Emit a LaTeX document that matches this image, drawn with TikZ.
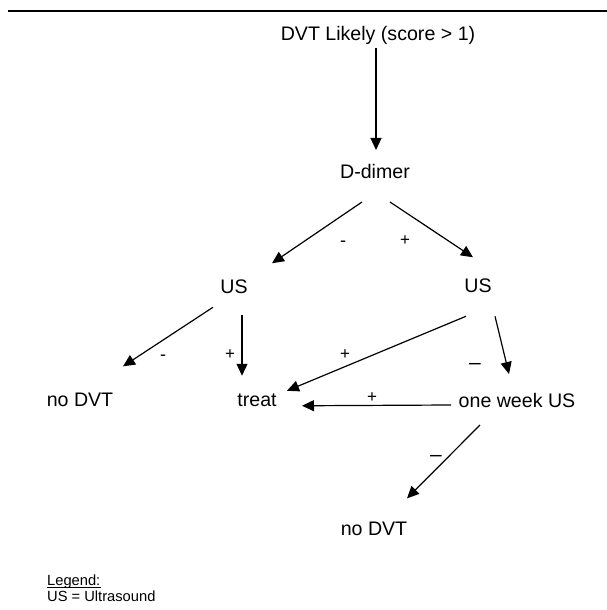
\documentclass[tikz,border=0pt]{standalone}
\usepackage{fontspec}
\setmainfont{Liberation Sans}
\usetikzlibrary{arrows.meta,calc}

\tikzset{
  txt/.style={inner sep=0pt, anchor=base, font=\fontsize{19.6}{23}\selectfont},
  lbl/.style={inner sep=0pt, anchor=base, font=\fontsize{17}{19}\selectfont},
  hyphenlbl/.style={inner sep=0pt, anchor=base, font=\fontsize{18}{20}\selectfont},
  dashlbl/.style={inner sep=0pt, anchor=base, font=\fontsize{21}{23}\selectfont},
  legendtxt/.style={inner sep=0pt, anchor=base west, font=\fontsize{14.7}{17}\selectfont},
  arr/.style={line width=1.2pt, -{Triangle[length=12pt,width=11pt]}},
}

\begin{document}
\begin{tikzpicture}[x=1pt,y=-1pt]
\useasboundingbox (0,0) rectangle (607,610);

% header rule
\coordinate (ruleL) at (8,11);
\coordinate (ruleR) at (607,11);
\draw[line width=2pt] (ruleL) -- (ruleR);

% decision nodes
\node[txt] (title) at (378,41) {DVT Likely (score > 1)};
\node[txt] (dd)    at (375,178) {D-dimer};
\node[txt] (usl)   at (234,293) {US};
\node[txt] (usr)   at (478,292) {US};
\node[txt] (nodvtA) at (80,406) {no DVT};
\node[txt] (treat) at (257,406) {treat};
\node[txt] (week)  at (517,407) {one week US};
\node[txt] (nodvtB) at (374,535) {no DVT};

% connectors
\draw[arr] ($(title)+(-2,12)$) -- ($(dd)+(1,-21)$);
\draw[arr] ($(dd)+(-13,31)$) -- ($(usl)+(38,-23)$);
\draw[arr] ($(dd)+(15,31)$) -- ($(usr)+(-5,-28)$);
\draw[arr] ($(usl)+(-21,21)$) -- ($(nodvtA)+(43,-33)$);
\draw[arr] ($(usl)+(8,29)$) -- ($(treat)+(-15,-24)$);
\draw[arr] ($(usr)+(-12,31)$) -- ($(treat)+(30,-9)$);
\draw[arr] ($(usr)+(17,31)$) -- ($(week)+(-8,-26)$);
\draw[arr] ($(week)+(-66,5)$) -- ($(treat)+(45,6)$);
\draw[arr] ($(week)+(-37,25)$) -- ($(nodvtB)+(33,-30)$);

% branch labels
\node[hyphenlbl] (l1) at (343,246) {-};
\node[lbl] (l2) at (405,245) {+};
\node[hyphenlbl] (l3) at (163,360) {-};
\node[lbl] (l4) at (230,359) {+};
\node[lbl] (l5) at (345,359) {+};
\node[dashlbl] (l6) at (475,369) {–};
\node[lbl] (l7) at (372,402) {+};
\node[dashlbl] (l8) at (436,461) {–};

% legend
\node[legendtxt] (leg)  at (47,585) {Legend:};
\draw[line width=0.8pt] ($(leg.base west)+(0,2)$) -- ($(leg.base east)+(0,2)$);
\node[legendtxt] (leg2) at (47,601) {US = Ultrasound};
\end{tikzpicture}
\end{document}
